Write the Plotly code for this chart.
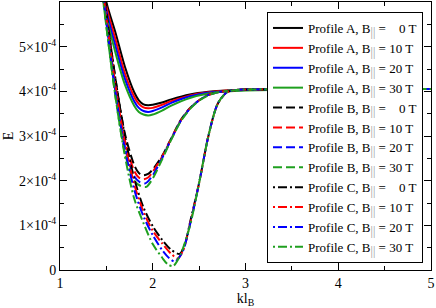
import plotly.graph_objects as go

# ---------------- data (E in units of 1e-4) ----------------
x_A = [1.40, 1.50, 1.60, 1.70, 1.80, 1.85, 1.90, 1.95, 2.00, 2.10, 2.20, 2.40, 2.60, 2.80, 3.00, 3.50, 4.00, 5.00]
A_0T  = [7.2, 6.0, 5.30, 4.55, 3.98, 3.80, 3.71, 3.69, 3.70, 3.75, 3.82, 3.93, 3.99, 4.02, 4.03, 4.04, 4.05, 4.05]
A_10T = [7.1, 5.9, 5.15, 4.40, 3.88, 3.72, 3.64, 3.62, 3.63, 3.70, 3.78, 3.91, 3.98, 4.02, 4.03, 4.04, 4.05, 4.05]
A_20T = [7.0, 5.8, 5.00, 4.28, 3.78, 3.63, 3.56, 3.54, 3.56, 3.64, 3.74, 3.89, 3.97, 4.01, 4.03, 4.04, 4.05, 4.05]
A_30T = [6.9, 5.7, 4.85, 4.15, 3.68, 3.54, 3.48, 3.46, 3.48, 3.57, 3.68, 3.85, 3.95, 4.00, 4.02, 4.04, 4.05, 4.05]

x_B0  = [1.45, 1.50, 1.60, 1.70, 1.80, 1.85, 1.90, 1.95, 2.00, 2.10, 2.20, 2.30, 2.40, 2.50, 2.60, 2.70, 2.80, 2.90, 3.00, 4.00, 5.00]
B_0T  = [6.6, 5.75, 4.25, 3.05, 2.35, 2.17, 2.12, 2.15, 2.25, 2.55, 2.95, 3.35, 3.62, 3.80, 3.92, 3.98, 4.01, 4.03, 4.04, 4.05, 4.05]
x_B10 = [1.45, 1.50, 1.60, 1.70, 1.80, 1.85, 1.90, 1.95, 2.00, 2.10, 2.20, 2.30, 2.40, 2.50, 2.60, 2.70, 2.80, 2.90, 3.00, 4.00, 5.00]
B_10T = [6.5, 5.65, 4.10, 2.90, 2.22, 2.07, 2.03, 2.07, 2.20, 2.53, 2.94, 3.34, 3.62, 3.80, 3.92, 3.98, 4.01, 4.03, 4.04, 4.05, 4.05]
x_B20 = [1.45, 1.50, 1.60, 1.70, 1.80, 1.86, 1.92, 2.00, 2.10, 2.20, 2.30, 2.40, 2.50, 2.60, 2.70, 2.80, 2.90, 3.00, 4.00, 5.00]
B_20T = [6.4, 5.55, 3.95, 2.75, 2.10, 1.97, 1.94, 2.12, 2.50, 2.93, 3.33, 3.61, 3.80, 3.92, 3.98, 4.01, 4.03, 4.04, 4.05, 4.05]
x_B30 = [1.45, 1.50, 1.60, 1.70, 1.80, 1.87, 1.93, 2.00, 2.10, 2.20, 2.30, 2.40, 2.50, 2.60, 2.70, 2.80, 2.90, 3.00, 4.00, 5.00]
B_30T = [6.3, 5.45, 3.85, 2.62, 2.00, 1.88, 1.86, 2.05, 2.47, 2.92, 3.32, 3.60, 3.79, 3.91, 3.98, 4.01, 4.03, 4.04, 4.05, 4.05]

x_C0  = [1.45, 1.50, 1.60, 1.70, 1.80, 1.90, 2.00, 2.10, 2.20, 2.29, 2.35, 2.40, 2.50, 2.60, 2.70, 2.80, 2.90, 3.00, 4.00, 5.00]
C_0T  = [6.6, 5.75, 4.25, 3.00, 2.05, 1.40, 0.98, 0.68, 0.45, 0.36, 0.60, 1.05, 1.95, 3.00, 3.72, 3.98, 4.03, 4.04, 4.05, 4.05]
x_C10 = [1.45, 1.50, 1.60, 1.70, 1.80, 1.90, 2.00, 2.10, 2.20, 2.27, 2.33, 2.40, 2.50, 2.60, 2.70, 2.80, 2.90, 3.00, 4.00, 5.00]
C_10T = [6.5, 5.65, 4.10, 2.85, 1.92, 1.30, 0.88, 0.60, 0.36, 0.26, 0.45, 1.02, 1.95, 3.00, 3.72, 3.98, 4.03, 4.04, 4.05, 4.05]
x_C20 = [1.45, 1.50, 1.60, 1.70, 1.80, 1.90, 2.00, 2.10, 2.18, 2.24, 2.32, 2.40, 2.50, 2.60, 2.70, 2.80, 2.90, 3.00, 4.00, 5.00]
C_20T = [6.4, 5.55, 3.95, 2.70, 1.80, 1.20, 0.78, 0.45, 0.26, 0.19, 0.40, 1.00, 1.95, 3.00, 3.72, 3.98, 4.03, 4.04, 4.05, 4.05]
x_C30 = [1.45, 1.50, 1.60, 1.70, 1.80, 1.90, 2.00, 2.10, 2.16, 2.22, 2.30, 2.40, 2.50, 2.60, 2.70, 2.80, 2.90, 3.00, 4.00, 5.00]
C_30T = [6.3, 5.45, 3.85, 2.55, 1.60, 1.05, 0.58, 0.28, 0.13, 0.09, 0.35, 0.98, 1.95, 3.00, 3.72, 3.98, 4.03, 4.04, 4.05, 4.05]

field_labels = ["\u00a0\u00a0 0", "10", "20", "30"]
colors = ["black", "#ff0000", "#0000ff", "#1fa01f"]

x_tickvals = [1, 2, 3, 4, 5]
x_ticktext = ["1", "2", "3", "4", "5"]
y_tickvals = [0, 1e-4, 2e-4, 3e-4, 4e-4, 5e-4]
y_ticktext = ["0", "1×10<sup>-4</sup>", "2×10<sup>-4</sup>", "3×10<sup>-4</sup>",
              "4×10<sup>-4</sup>", "5×10<sup>-4</sup>"]

FONT = "Liberation Serif"

profiles = [
    ("A", [(x_A, A_0T), (x_A, A_10T), (x_A, A_20T), (x_A, A_30T)], "solid"),
    ("B", [(x_B0, B_0T), (x_B10, B_10T), (x_B20, B_20T), (x_B30, B_30T)], "9px,4px"),
    ("C", [(x_C0, C_0T), (x_C10, C_10T), (x_C20, C_20T), (x_C30, C_30T)], "2px,3px,9px,3px"),
]

fig = go.Figure()
for pname, series, dash in profiles:
    for (xs, ys), col, fl in zip(series, colors, field_labels):
        name = (f"Profile {pname}, B<sub><span style='color:#999;font-size:12px'>||</span></sub> = {fl} T")
        fig.add_trace(go.Scatter(
            x=xs, y=[v * 1e-4 for v in ys], mode="lines", name=name,
            line=dict(color=col, width=2, dash=dash, shape="spline", smoothing=0.8),
        ))

axis_common = dict(
    showgrid=False, zeroline=False, showline=True, linecolor="black", linewidth=1,
    mirror="allticks", ticks="inside", ticklen=7, tickcolor="black", tickwidth=1,
    tickfont=dict(family=FONT, size=14, color="black"), automargin=False,
)

fig.update_xaxes(range=[1, 5], tickvals=x_tickvals, ticktext=x_ticktext,
                 minor=dict(ticks="inside", ticklen=4, dtick=0.5, tickcolor="black", showgrid=False),
                 title=dict(text="kl<sub>B</sub>", font=dict(family=FONT, size=14, color="black"), standoff=2),
                 **axis_common)
fig.update_yaxes(range=[0, 6e-4], tickvals=y_tickvals, ticktext=y_ticktext,
                 minor=dict(ticks="inside", ticklen=4, dtick=0.5e-4, tickcolor="black", showgrid=False),
                 title=dict(text="E", font=dict(family=FONT, size=14, color="black"), standoff=2),
                 **axis_common)

fig.update_layout(
    width=436, height=308,
    margin=dict(l=60, r=5, t=2, b=38),
    paper_bgcolor="white", plot_bgcolor="white",
    font=dict(family=FONT, size=14, color="black"),
    showlegend=True,
    legend=dict(x=1 - 8 / 371, xanchor="right", y=1 - 10 / 268, yanchor="top",
                bgcolor="white", bordercolor="black", borderwidth=1,
                font=dict(family=FONT, size=13, color="black"),
                tracegroupgap=0, itemwidth=30),
)

fig.write_html("out.html", config={"displayModeBar": False},
               post_script="document.body.style.margin='0';")
